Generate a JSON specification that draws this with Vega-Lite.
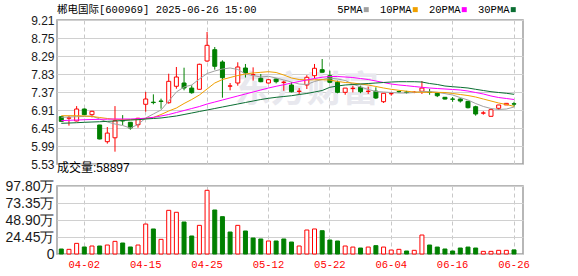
{
  "$schema": "https://vega.github.io/schema/vega-lite/v6.json",
  "background": "white",
  "padding": {"left": 4, "top": 3, "right": 4, "bottom": 2},
  "spacing": 22,
  "bounds": "flush",
  "resolve": {"scale": {"x": "independent"}},
  "config": {
    "view": {"stroke": "#a0a0a0", "strokeWidth": 1.5},
    "axis": {"ticks": false, "domain": false, "labelFont": "Liberation Sans", "labelColor": "#1a1a1a", "labelOverlap": false},
    "title": {"fontWeight": "normal", "color": "#000000", "anchor": "start", "frame": "group"}
  },
  "datasets": {
    "k": [
      {"date": "03-28", "open": 6.74, "close": 6.62, "high": 6.75, "low": 6.61, "vol": 71900, "up": false, "5PMA": 6.723, "10PMA": 6.764, "20PMA": 6.637, "30PMA": 6.570},
      {"date": "03-31", "open": 6.70, "close": 6.71, "high": 6.76, "low": 6.51, "vol": 67000, "up": true, "5PMA": 6.731, "10PMA": 6.764, "20PMA": 6.647, "30PMA": 6.577},
      {"date": "04-01", "open": 6.63, "close": 6.935, "high": 7.01, "low": 6.62, "vol": 153000, "up": true, "5PMA": 6.739, "10PMA": 6.764, "20PMA": 6.654, "30PMA": 6.585},
      {"date": "04-02", "open": 6.935, "close": 6.79, "high": 6.95, "low": 6.78, "vol": 101000, "up": false, "5PMA": 6.744, "10PMA": 6.757, "20PMA": 6.662, "30PMA": 6.595},
      {"date": "04-03", "open": 6.79, "close": 6.877, "high": 6.89, "low": 6.72, "vol": 115000, "up": true, "5PMA": 6.757, "10PMA": 6.744, "20PMA": 6.667, "30PMA": 6.603},
      {"date": "04-07", "open": 6.527, "close": 6.169, "high": 6.53, "low": 6.16, "vol": 115000, "up": false, "5PMA": 6.680, "10PMA": 6.718, "20PMA": 6.672, "30PMA": 6.610},
      {"date": "04-08", "open": 6.10, "close": 6.32, "high": 6.475, "low": 6.05, "vol": 129000, "up": true, "5PMA": 6.603, "10PMA": 6.693, "20PMA": 6.675, "30PMA": 6.620},
      {"date": "04-09", "open": 6.20, "close": 6.636, "high": 7.01, "low": 5.845, "vol": 182000, "up": true, "5PMA": 6.552, "10PMA": 6.672, "20PMA": 6.680, "30PMA": 6.629},
      {"date": "04-10", "open": 6.64, "close": 6.63, "high": 6.78, "low": 6.527, "vol": 158000, "up": false, "5PMA": 6.514, "10PMA": 6.662, "20PMA": 6.680, "30PMA": 6.641},
      {"date": "04-11", "open": 6.596, "close": 6.45, "high": 6.60, "low": 6.406, "vol": 101000, "up": false, "5PMA": 6.450, "10PMA": 6.662, "20PMA": 6.680, "30PMA": 6.654},
      {"date": "04-14", "open": 6.534, "close": 6.698, "high": 6.71, "low": 6.458, "vol": 129000, "up": true, "5PMA": 6.539, "10PMA": 6.672, "20PMA": 6.688, "30PMA": 6.662},
      {"date": "04-15", "open": 7.056, "close": 7.191, "high": 7.37, "low": 6.866, "vol": 431000, "up": true, "5PMA": 6.705, "10PMA": 6.693, "20PMA": 6.700, "30PMA": 6.680},
      {"date": "04-16", "open": 7.11, "close": 7.10, "high": 7.31, "low": 7.056, "vol": 360000, "up": false, "5PMA": 6.808, "10PMA": 6.718, "20PMA": 6.723, "30PMA": 6.693},
      {"date": "04-17", "open": 7.14, "close": 7.13, "high": 7.20, "low": 6.943, "vol": 211000, "up": true, "5PMA": 6.910, "10PMA": 6.795, "20PMA": 6.757, "30PMA": 6.706},
      {"date": "04-18", "open": 7.096, "close": 7.643, "high": 7.837, "low": 7.071, "vol": 628000, "up": true, "5PMA": 7.140, "10PMA": 6.884, "20PMA": 6.795, "30PMA": 6.731},
      {"date": "04-21", "open": 7.516, "close": 7.753, "high": 8.009, "low": 7.454, "vol": 600000, "up": true, "5PMA": 7.370, "10PMA": 6.961, "20PMA": 6.846, "30PMA": 6.757},
      {"date": "04-22", "open": 7.60, "close": 7.472, "high": 7.991, "low": 7.413, "vol": 460000, "up": false, "5PMA": 7.498, "10PMA": 7.076, "20PMA": 6.897, "30PMA": 6.795},
      {"date": "04-23", "open": 7.47, "close": 7.352, "high": 7.541, "low": 7.326, "vol": 259000, "up": false, "5PMA": 7.549, "10PMA": 7.178, "20PMA": 6.948, "30PMA": 6.833},
      {"date": "04-24", "open": 7.439, "close": 8.078, "high": 8.093, "low": 7.43, "vol": 412000, "up": true, "5PMA": 7.702, "10PMA": 7.293, "20PMA": 6.999, "30PMA": 6.872},
      {"date": "04-25", "open": 8.162, "close": 8.563, "high": 8.903, "low": 8.14, "vol": 916000, "up": true, "5PMA": 7.843, "10PMA": 7.447, "20PMA": 7.063, "30PMA": 6.910},
      {"date": "04-28", "open": 8.451, "close": 8.027, "high": 8.52, "low": 7.941, "vol": 633000, "up": false, "5PMA": 7.907, "10PMA": 7.600, "20PMA": 7.114, "30PMA": 6.948},
      {"date": "04-29", "open": 8.137, "close": 7.735, "high": 8.18, "low": 7.224, "vol": 537000, "up": false, "5PMA": 7.958, "10PMA": 7.689, "20PMA": 7.165, "30PMA": 6.987},
      {"date": "04-30", "open": 7.52, "close": 7.525, "high": 7.60, "low": 7.413, "vol": 316000, "up": false, "5PMA": 7.984, "10PMA": 7.740, "20PMA": 7.217, "30PMA": 7.025},
      {"date": "05-06", "open": 7.60, "close": 8.009, "high": 8.129, "low": 7.531, "vol": 412000, "up": true, "5PMA": 7.945, "10PMA": 7.792, "20PMA": 7.268, "30PMA": 7.063},
      {"date": "05-07", "open": 7.983, "close": 7.856, "high": 8.086, "low": 7.74, "vol": 331000, "up": false, "5PMA": 7.830, "10PMA": 7.830, "20PMA": 7.319, "30PMA": 7.102},
      {"date": "05-08", "open": 7.81, "close": 7.815, "high": 8.00, "low": 7.66, "vol": 230000, "up": false, "5PMA": 7.792, "10PMA": 7.856, "20PMA": 7.370, "30PMA": 7.140},
      {"date": "05-09", "open": 7.72, "close": 7.633, "high": 7.83, "low": 7.62, "vol": 216000, "up": false, "5PMA": 7.753, "10PMA": 7.873, "20PMA": 7.421, "30PMA": 7.178},
      {"date": "05-12", "open": 7.60, "close": 7.684, "high": 7.70, "low": 7.59, "vol": 187000, "up": true, "5PMA": 7.771, "10PMA": 7.889, "20PMA": 7.472, "30PMA": 7.209},
      {"date": "05-13", "open": 7.70, "close": 7.633, "high": 7.72, "low": 7.59, "vol": 187000, "up": false, "5PMA": 7.728, "10PMA": 7.868, "20PMA": 7.516, "30PMA": 7.234},
      {"date": "05-14", "open": 7.615, "close": 7.62, "high": 7.66, "low": 7.40, "vol": 216000, "up": false, "5PMA": 7.677, "10PMA": 7.804, "20PMA": 7.556, "30PMA": 7.255},
      {"date": "05-15", "open": 7.549, "close": 7.377, "high": 7.62, "low": 7.36, "vol": 172000, "up": false, "5PMA": 7.625, "10PMA": 7.728, "20PMA": 7.600, "30PMA": 7.275},
      {"date": "05-16", "open": 7.385, "close": 7.39, "high": 7.47, "low": 7.32, "vol": 115000, "up": true, "5PMA": 7.574, "10PMA": 7.689, "20PMA": 7.638, "30PMA": 7.306},
      {"date": "05-19", "open": 7.549, "close": 7.746, "high": 7.80, "low": 7.447, "vol": 345000, "up": true, "5PMA": 7.562, "10PMA": 7.677, "20PMA": 7.677, "30PMA": 7.332},
      {"date": "05-20", "open": 7.787, "close": 7.976, "high": 8.086, "low": 7.72, "vol": 360000, "up": true, "5PMA": 7.638, "10PMA": 7.682, "20PMA": 7.715, "30PMA": 7.370},
      {"date": "05-21", "open": 7.94, "close": 7.874, "high": 8.213, "low": 7.87, "vol": 335000, "up": false, "5PMA": 7.690, "10PMA": 7.684, "20PMA": 7.748, "30PMA": 7.408},
      {"date": "05-22", "open": 7.787, "close": 7.618, "high": 7.914, "low": 7.59, "vol": 201000, "up": false, "5PMA": 7.728, "10PMA": 7.677, "20PMA": 7.766, "30PMA": 7.490},
      {"date": "05-23", "open": 7.618, "close": 7.362, "high": 7.66, "low": 7.337, "vol": 187000, "up": false, "5PMA": 7.702, "10PMA": 7.638, "20PMA": 7.766, "30PMA": 7.523},
      {"date": "05-26", "open": 7.362, "close": 7.47, "high": 7.47, "low": 7.30, "vol": 115000, "up": true, "5PMA": 7.664, "10PMA": 7.613, "20PMA": 7.753, "30PMA": 7.549},
      {"date": "05-27", "open": 7.46, "close": 7.465, "high": 7.53, "low": 7.36, "vol": 100000, "up": true, "5PMA": 7.574, "10PMA": 7.600, "20PMA": 7.740, "30PMA": 7.562},
      {"date": "05-28", "open": 7.49, "close": 7.377, "high": 7.53, "low": 7.34, "vol": 86000, "up": false, "5PMA": 7.498, "10PMA": 7.574, "20PMA": 7.715, "30PMA": 7.574},
      {"date": "05-29", "open": 7.385, "close": 7.39, "high": 7.505, "low": 7.32, "vol": 100000, "up": true, "5PMA": 7.434, "10PMA": 7.549, "20PMA": 7.689, "30PMA": 7.587},
      {"date": "05-30", "open": 7.39, "close": 7.217, "high": 7.49, "low": 7.19, "vol": 120000, "up": false, "5PMA": 7.383, "10PMA": 7.511, "20PMA": 7.651, "30PMA": 7.600},
      {"date": "06-03", "open": 7.122, "close": 7.337, "high": 7.34, "low": 7.09, "vol": 100000, "up": true, "5PMA": 7.370, "10PMA": 7.472, "20PMA": 7.613, "30PMA": 7.613},
      {"date": "06-04", "open": 7.325, "close": 7.33, "high": 7.36, "low": 7.275, "vol": 57000, "up": true, "5PMA": 7.357, "10PMA": 7.439, "20PMA": 7.574, "30PMA": 7.625},
      {"date": "06-05", "open": 7.38, "close": 7.377, "high": 7.40, "low": 7.35, "vol": 67000, "up": true, "5PMA": 7.344, "10PMA": 7.413, "20PMA": 7.549, "30PMA": 7.633},
      {"date": "06-06", "open": 7.37, "close": 7.36, "high": 7.40, "low": 7.33, "vol": 43000, "up": false, "5PMA": 7.344, "10PMA": 7.390, "20PMA": 7.531, "30PMA": 7.633},
      {"date": "06-09", "open": 7.36, "close": 7.365, "high": 7.39, "low": 7.34, "vol": 53000, "up": true, "5PMA": 7.357, "10PMA": 7.370, "20PMA": 7.510, "30PMA": 7.633},
      {"date": "06-10", "open": 7.388, "close": 7.47, "high": 7.65, "low": 7.32, "vol": 273000, "up": true, "5PMA": 7.383, "10PMA": 7.362, "20PMA": 7.490, "30PMA": 7.625},
      {"date": "06-11", "open": 7.365, "close": 7.36, "high": 7.45, "low": 7.30, "vol": 129000, "up": false, "5PMA": 7.383, "10PMA": 7.362, "20PMA": 7.472, "30PMA": 7.587},
      {"date": "06-12", "open": 7.34, "close": 7.275, "high": 7.35, "low": 7.24, "vol": 100000, "up": false, "5PMA": 7.362, "10PMA": 7.362, "20PMA": 7.459, "30PMA": 7.562},
      {"date": "06-13", "open": 7.235, "close": 7.19, "high": 7.24, "low": 7.18, "vol": 72000, "up": false, "5PMA": 7.329, "10PMA": 7.357, "20PMA": 7.447, "30PMA": 7.523},
      {"date": "06-16", "open": 7.19, "close": 7.185, "high": 7.24, "low": 7.12, "vol": 43000, "up": false, "5PMA": 7.293, "10PMA": 7.332, "20PMA": 7.434, "30PMA": 7.505},
      {"date": "06-17", "open": 7.19, "close": 7.14, "high": 7.21, "low": 7.10, "vol": 86000, "up": false, "5PMA": 7.227, "10PMA": 7.306, "20PMA": 7.421, "30PMA": 7.490},
      {"date": "06-18", "open": 7.132, "close": 6.969, "high": 7.14, "low": 6.95, "vol": 100000, "up": false, "5PMA": 7.165, "10PMA": 7.280, "20PMA": 7.395, "30PMA": 7.472},
      {"date": "06-19", "open": 6.994, "close": 6.808, "high": 7.02, "low": 6.765, "vol": 86000, "up": false, "5PMA": 7.076, "10PMA": 7.242, "20PMA": 7.357, "30PMA": 7.439},
      {"date": "06-20", "open": 6.83, "close": 6.835, "high": 6.88, "low": 6.79, "vol": 38000, "up": true, "5PMA": 7.000, "10PMA": 7.191, "20PMA": 7.319, "30PMA": 7.408},
      {"date": "06-23", "open": 6.749, "close": 6.918, "high": 6.92, "low": 6.745, "vol": 38000, "up": true, "5PMA": 6.948, "10PMA": 7.140, "20PMA": 7.268, "30PMA": 7.378},
      {"date": "06-24", "open": 6.953, "close": 7.038, "high": 7.04, "low": 6.91, "vol": 53000, "up": true, "5PMA": 6.923, "10PMA": 7.089, "20PMA": 7.229, "30PMA": 7.357},
      {"date": "06-25", "open": 7.04, "close": 7.08, "high": 7.08, "low": 7.04, "vol": 53000, "up": true, "5PMA": 6.935, "10PMA": 7.050, "20PMA": 7.204, "30PMA": 7.337},
      {"date": "06-26", "open": 7.07, "close": 7.06, "high": 7.12, "low": 7.00, "vol": 58897, "up": false, "5PMA": 6.986, "10PMA": 7.004, "20PMA": 7.178, "30PMA": 7.311}
    ]
  },
  "vconcat": [
    {
      "width": 466,
      "height": 144,
      "title": {"text": "郴电国际[600969] 2025-06-26 15:00", "font": "Liberation Mono, Noto Sans CJK SC", "fontSize": 10.5, "offset": -1},
      "data": {"name": "k"},
      "encoding": {
        "x": {
          "field": "date", "type": "ordinal", "title": null,
          "scale": {"paddingInner": 0, "paddingOuter": 0.365, "align": 0.08},
          "axis": {"values": ["04-02", "04-15", "04-25", "05-12", "05-22", "06-04", "06-16", "06-26"], "labels": false, "grid": true, "gridDash": [4, 3], "gridColor": "#c8c8c8", "bandPosition": 0.5}
        }
      },
      "layer": [
        {
          "data": {"values": [{"date": "05-19", "p": 7.40, "t": "东方财富"}]},
          "mark": {"type": "text", "font": "Noto Sans CJK SC", "fontSize": 36, "fontWeight": "bold", "color": "#e8e8ee", "align": "center", "baseline": "middle"},
          "encoding": {
            "y": {"field": "p", "type": "quantitative", "title": null,
              "scale": {"domain": [5.53, 9.21], "zero": false, "nice": false},
              "axis": {"values": [5.53, 5.99, 6.45, 6.91, 7.37, 7.83, 8.29, 8.75, 9.21], "tickCount": 9, "format": ".2f", "labelOverlap": false, "grid": true, "gridColor": "#d0d0d0", "labelFontSize": 12, "labelPadding": 3}},
            "text": {"field": "t"}
          }
        },
        {
          "mark": {"type": "rule", "strokeWidth": 1},
          "encoding": {
            "y": {"field": "low", "type": "quantitative", "title": null},
            "y2": {"field": "high"},
            "color": {"condition": {"test": "datum.close >= datum.open", "value": "#ff0000"}, "value": "#008000"}
          }
        },
        {
          "mark": {"type": "bar", "width": 4, "strokeWidth": 1},
          "encoding": {
            "y": {"field": "open", "type": "quantitative", "title": null},
            "y2": {"field": "close"},
            "fill": {"condition": {"test": "datum.close >= datum.open", "value": "#ffffff"}, "value": "#008000"},
            "stroke": {"condition": {"test": "datum.close >= datum.open", "value": "#ff0000"}, "value": "#008000"}
          }
        },
        {
          "transform": [{"fold": ["5PMA", "10PMA", "20PMA", "30PMA"], "as": ["ma", "v"]}],
          "mark": {"type": "line", "strokeWidth": 1},
          "encoding": {
            "y": {"field": "v", "type": "quantitative", "title": null},
            "color": {
              "field": "ma", "type": "nominal",
              "scale": {"domain": ["5PMA", "10PMA", "20PMA", "30PMA"], "range": ["#a0a0a0", "#f0a000", "#ff00ff", "#0a6e32"]},
              "legend": {"orient": "none", "legendX": 304, "legendY": -16, "direction": "horizontal", "title": null, "symbolType": "square", "symbolSize": 4, "symbolStrokeWidth": 3, "labelFont": "Liberation Mono", "labelFontSize": 10.5, "labelColor": "#000000", "labelAlign": "right", "labelOffset": -9, "columnPadding": 5, "padding": 0}
            }
          }
        }
      ]
    },
    {
      "width": 466,
      "height": 68,
      "title": {"text": "成交量:58897", "font": "Liberation Sans, Noto Sans CJK SC", "fontSize": 12, "offset": 4},
      "data": {"name": "k"},
      "mark": {"type": "bar", "width": 4, "strokeWidth": 1},
      "encoding": {
        "x": {
          "field": "date", "type": "ordinal", "title": null,
          "scale": {"paddingInner": 0, "paddingOuter": 0.365, "align": 0.08},
          "axis": {"values": ["04-02", "04-15", "04-25", "05-12", "05-22", "06-04", "06-16", "06-26"], "labelColor": "#ff0000", "labelFont": "Liberation Mono", "labelFontSize": 10.5, "labelAngle": 0, "labelPadding": 5, "grid": true, "gridDash": [4, 3], "gridColor": "#c8c8c8", "bandPosition": 0.5}
        },
        "y": {
          "field": "vol", "type": "quantitative", "title": null,
          "scale": {"domain": [0, 978000], "nice": false},
          "axis": {"values": [0, 244500, 489000, 733500, 978000], "tickCount": 5, "labelExpr": "datum.value == 0 ? '0' : format(datum.value / 10000, '.2f') + '万'", "grid": true, "gridColor": "#d0d0d0", "labelFontSize": 14, "labelPadding": 3}
        },
        "fill": {"condition": {"test": "datum.up", "value": "#ffffff"}, "value": "#008000"},
        "stroke": {"condition": {"test": "datum.up", "value": "#ff0000"}, "value": "#008000"}
      }
    }
  ]
}
